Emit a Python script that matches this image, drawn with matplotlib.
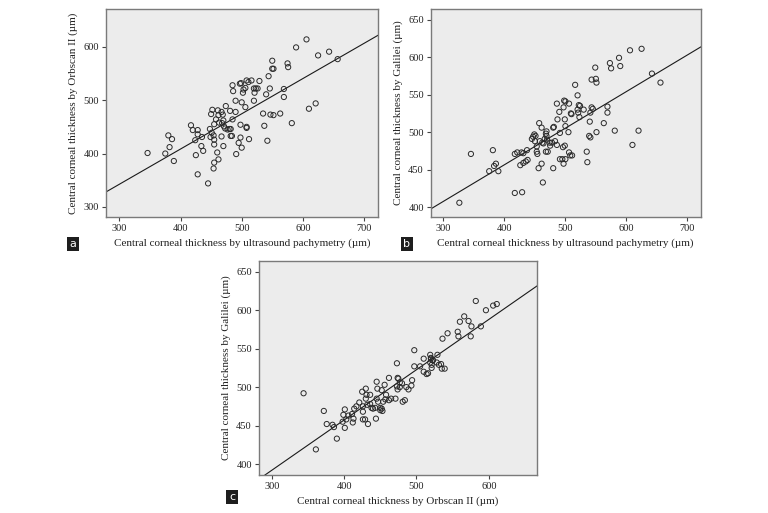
import matplotlib
matplotlib.use("Agg")
import matplotlib.pyplot as plt
import numpy as np

# ---------------- data ----------------
# Panel a: ultrasound pachymetry (x) vs Orbscan II (y)
a_x = [346, 380, 386, 382, 375, 389, 417, 420, 428, 428, 424, 435, 434, 437, 425, 428, 445,
       449, 448, 451, 454, 455, 455, 455, 454, 450, 452, 455, 458, 461, 462, 467, 469, 463,
       460, 462, 468, 470, 471, 474, 470, 473, 477, 480, 481, 482, 467, 482, 484, 485, 490,
       490, 485, 486, 499, 497, 503, 502, 506, 506, 500, 491, 498, 498, 495, 500, 508, 508,
       512, 508, 511, 516, 520, 523, 521, 520, 529, 535, 537, 526, 540, 544, 542, 546, 547,
       552, 550, 550, 552, 563, 569, 569, 575, 576, 582, 589, 606, 610, 625, 621, 643, 657]
a_y = [401, 434, 427, 412, 400, 386, 453, 444, 444, 436, 425, 431, 414, 405, 397, 361, 344,
       431, 446, 439, 434, 426, 417, 383, 372, 474, 482, 455, 464, 481, 472, 478, 473, 458,
       402, 389, 457, 462, 451, 489, 414, 447, 445, 446, 480, 446, 432, 433, 433, 464, 478,
       499, 528, 517, 532, 531, 520, 514, 523, 487, 496, 399, 454, 430, 420, 411, 450, 448,
       427, 537, 534, 537, 522, 522, 514, 499, 536, 475, 452, 522, 511, 545, 424, 522, 473,
       472, 574, 559, 559, 475, 521, 506, 569, 562, 457, 599, 614, 484, 584, 494, 591, 577]
a_fit = (144.5, 0.66)   # intercept, slope

# Panel b: ultrasound pachymetry (x) vs Galilei (y)
b_x = [326, 345, 375, 381, 383, 386, 390, 417, 429, 417, 421, 428, 431, 426, 431, 435, 438,
       437, 445, 449, 447, 451, 450, 453, 453, 454, 456, 457, 461, 458, 462, 464, 461, 463,
       466, 468, 469, 469, 470, 474, 468, 471, 475, 478, 480, 481, 483, 486, 480, 486, 487,
       490, 491, 491, 495, 497, 498, 500, 499, 500, 496, 499, 497, 500, 505, 506, 509, 510,
       506, 508, 511, 516, 520, 520, 521, 523, 522, 524, 530, 535, 536, 539, 540, 541, 543,
       545, 541, 543, 549, 550, 551, 551, 563, 569, 569, 573, 575, 581, 588, 590, 606, 625,
       620, 610, 642, 656]
b_y = [406, 471, 448, 476, 455, 458, 448, 419, 420, 471, 473, 473, 472, 456, 459, 461, 463,
       476, 491, 497, 494, 495, 488, 481, 474, 471, 452, 512, 506, 488, 486, 485, 458, 433,
       491, 498, 501, 495, 490, 486, 474, 474, 482, 486, 506, 507, 488, 483, 452, 538, 517,
       527, 499, 464, 464, 533, 542, 541, 517, 508, 480, 482, 458, 464, 500, 538, 525, 524,
       473, 469, 469, 563, 549, 530, 526, 520, 536, 535, 530, 474, 460, 495, 514, 493, 533,
       531, 526, 570, 586, 571, 566, 500, 512, 534, 526, 592, 585, 502, 599, 588, 609, 611,
       502, 483, 578, 566]
b_fit = (261.8, 0.487)

# Panel c: Orbscan II (x) vs Galilei (y)
c_x = [344, 361, 372, 376, 384, 386, 390, 398, 399, 401, 401, 403, 406, 411, 413, 412, 414,
       417, 421, 425, 426, 426, 426, 429, 430, 431, 430, 432, 433, 436, 436, 438, 440, 443,
       445, 445, 446, 444, 447, 450, 450, 452, 453, 452, 454, 457, 458, 456, 462, 462, 465,
       471, 473, 473, 474, 474, 475, 477, 477, 480, 481, 484, 486, 489, 493, 494, 497, 497,
       505, 510, 510, 514, 516, 519, 519, 520, 521, 521, 523, 528, 529, 531, 534, 535, 539,
       536, 543, 557, 558, 560, 566, 572, 575, 576, 582, 596, 589, 606, 611, 520, 522]
c_y = [492, 419, 469, 452, 451, 448, 433, 455, 464, 447, 471, 458, 463, 465, 459, 454, 472,
       475, 480, 494, 475, 468, 458, 458, 498, 490, 485, 477, 452, 490, 478, 473, 472, 473,
       485, 507, 498, 459, 481, 473, 470, 472, 469, 496, 481, 484, 490, 503, 512, 483, 485,
       485, 531, 501, 497, 512, 511, 506, 500, 505, 481, 483, 500, 497, 502, 509, 548, 527,
       527, 537, 520, 517, 518, 532, 542, 537, 529, 525, 535, 532, 542, 529, 530, 524, 524,
       563, 570, 572, 566, 585, 592, 586, 566, 579, 612, 600, 579, 606, 608, 538, 535]
c_fit = (195.6, 0.654)

panels = [
    dict(x=a_x, y=a_y, fit=a_fit, xlim=(278, 723), ylim=(281, 671),
         xticks=[300, 400, 500, 600, 700], yticks=[300, 400, 500, 600],
         xlabel="Central corneal thickness by ultrasound pachymetry (\u00b5m)",
         ylabel="Central corneal thickness by Orbscan II (\u00b5m)",
         rect=[106/768, 1-217/513, 272/768, 208/513], tag="a", tagpos=(73, 244)),
    dict(x=b_x, y=b_y, fit=b_fit, xlim=(279, 722), ylim=(387, 664),
         xticks=[300, 400, 500, 600, 700], yticks=[400, 450, 500, 550, 600, 650],
         xlabel="Central corneal thickness by ultrasound pachymetry (\u00b5m)",
         ylabel="Central corneal thickness by Galilei (\u00b5m)",
         rect=[430.7/768, 1-217/513, 270/768, 208/513], tag="b", tagpos=(407, 244)),
    dict(x=c_x, y=c_y, fit=c_fit, xlim=(282, 667), ylim=(385.7, 664),
         xticks=[300, 400, 500, 600], yticks=[400, 450, 500, 550, 600, 650],
         xlabel="Central corneal thickness by Orbscan II (\u00b5m)",
         ylabel="Central corneal thickness by Galilei (\u00b5m)",
         rect=[258.7/768, 1-475/513, 278.6/768, 214/513], tag="c", tagpos=(232, 497)),
]

plt.rcParams['font.family'] = ['Liberation Serif', 'DejaVu Serif']
fig = plt.figure(figsize=(7.68, 5.13), dpi=100)
fig.patch.set_facecolor('white')

for p in panels:
    ax = fig.add_axes(p["rect"])
    ax.set_facecolor('#ececec')
    ax.scatter(p["x"], p["y"], s=14, facecolors='none', edgecolors='#2a2a2a',
               linewidths=0.7, zorder=3)
    xs = np.array(p["xlim"])
    b0, b1 = p["fit"]
    ax.plot(xs, b0 + b1 * xs, color='#1a1a1a', lw=0.8, zorder=2)
    ax.set_xlim(p["xlim"])
    ax.set_ylim(p["ylim"])
    ax.set_xticks(p["xticks"])
    ax.set_yticks(p["yticks"])
    for s in ax.spines.values():
        s.set_color('#7a7a7a')
        s.set_linewidth(1.0)
    ax.tick_params(direction='out', length=3, width=0.8, color='#444444',
                   labelsize=7.5, labelcolor='#222222', pad=2)
    ax.set_xlabel(p["xlabel"], fontsize=8, color='#222222', labelpad=4)
    ax.set_ylabel(p["ylabel"], fontsize=8, color='#222222', labelpad=4)
    tx, ty = p["tagpos"]
    fig.text(tx/768, 1-ty/513, p["tag"], fontsize=8, color='white',
             family='DejaVu Sans', ha='center', va='center',
             bbox=dict(boxstyle='square,pad=0.22', fc='#1e1e1e', ec='none'))

fig.savefig("out.png", dpi=100, facecolor='white')
